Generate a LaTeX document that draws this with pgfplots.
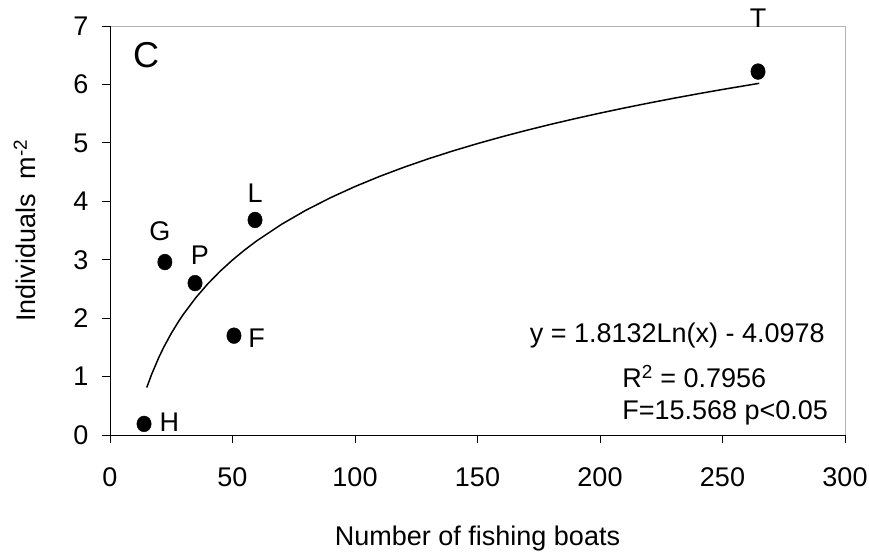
\documentclass[border=0pt]{standalone}
\usepackage{pgfplots}
\pgfplotsset{compat=1.18}
\usepackage{fontspec}
\setmainfont{Liberation Sans}

\newcommand{\fs}{\fontsize{27bp}{32bp}\selectfont}

\begin{document}
\begin{tikzpicture}
\path[use as bounding box] (-110bp,-121bp) rectangle (759bp,435bp);
\begin{axis}[
    scale only axis,
    width=735bp, height=409bp,
    xmin=0, xmax=300, ymin=0, ymax=7,
    xtick={0,50,...,300},
    ytick={0,1,...,7},
    xtick pos=left, ytick pos=left,
    tick align=outside,
    major tick length=8bp,
    tick style={black, line width=0.8bp},
    axis line style={draw=none},
    clip=false,
    /pgf/number format/assume math mode=true,
    tick label style={font=\fs},
    xticklabel style={yshift=-21bp},
    yticklabel style={xshift=-10bp},
]
\draw[gray!60, line width=0.8bp] (rel axis cs:0,1) -- (rel axis cs:1,1) -- (rel axis cs:1,0);
\draw[black, line width=0.8bp] (rel axis cs:0,1) -- (rel axis cs:0,0) -- (rel axis cs:1,0);

% logarithmic trendline, evaluated points
\addplot[black, line width=1.5bp, mark=none] coordinates {
    (15,0.8125) (17,1.0394) (20,1.334) (22,1.5069) (25,1.7387) (28,1.9442)
    (30,2.0692) (35,2.3487) (40,2.5909) (45,2.8044) (50,2.9955) (55,3.1683)
    (60,3.3261) (70,3.6056) (80,3.8477) (90,4.0613) (100,4.2523) (110,4.4251)
    (120,4.5829) (130,4.728) (140,4.8624) (150,4.9875) (160,5.1045) (170,5.2144)
    (180,5.3181) (190,5.4161) (200,5.5091) (210,5.5976) (220,5.6819) (230,5.7625)
    (240,5.8397) (250,5.9137) (265,6.0194)
};

% sites
\addplot[only marks, mark=*, mark size=7.2bp, black,
    every mark/.append style={yscale=1.1}] coordinates {
    (13.9,0.19) (22.4,2.96) (34.7,2.60) (50.6,1.70) (59.2,3.68) (264.5,6.22)
};

\node[font=\fs] at (axis cs:24.2,0.22) {H};
\node[font=\fs] at (axis cs:20.4,3.48) {G};
\node[font=\fs] at (axis cs:36.7,3.07) {P};
\node[font=\fs] at (axis cs:59.8,1.66) {F};
\node[font=\fs] at (axis cs:59.2,4.14) {L};
\node[font=\fs] at (axis cs:264.5,7.14) {T};
\node[font=\fontsize{36bp}{40bp}\selectfont] at (axis cs:14.7,6.5) {C};

\node[font=\fs, anchor=base east, inner sep=0pt] at (axis cs:291.8,1.575) {y = 1.8132Ln(x) - 4.0978};
\node[font=\fs, anchor=base west, inner sep=0pt] at (axis cs:209,0.82) {R\textsuperscript{2} = 0.7956};
\node[font=\fs, anchor=base west, inner sep=0pt] at (axis cs:209,0.257) {F=15.568 p<0.05};

% axis titles
\node[font=\fs] at ([yshift=-104bp]rel axis cs:0.5,0) {Number of fishing boats};
\node[font=\fs, rotate=90] at ([xshift=-85bp]rel axis cs:0,0.5) {Individuals\ \ m\textsuperscript{-2}};
\end{axis}
\end{tikzpicture}
\end{document}
